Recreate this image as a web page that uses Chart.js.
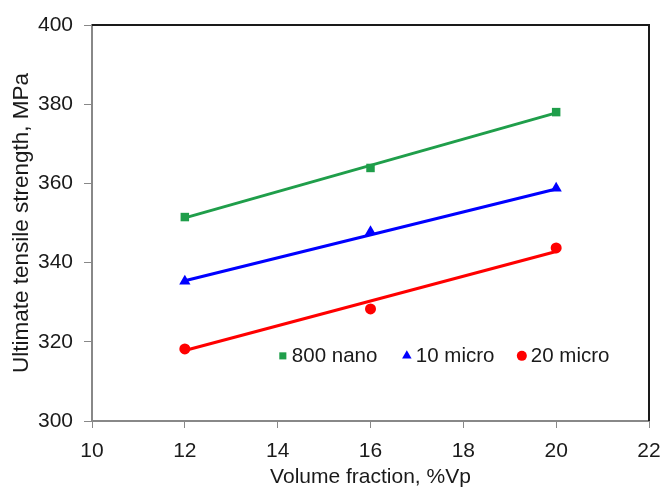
<!DOCTYPE html>
<html>
<head>
<meta charset="utf-8">
<script src="https://cdn.jsdelivr.net/npm/chart.js@4"></script>
<style>
html,body{margin:0;padding:0;background:#fff;}
#wrap{width:664px;height:494px;position:relative;}
</style>
</head>
<body>
<div id="wrap"><canvas id="c" width="664" height="494"></canvas></div>
<script>
// ---- data ----
const xValues = [12, 16, 20];
const seriesNames = ['800 nano', '10 micro', '20 micro'];
const nano800 = [351.5, 363.9, 378.0];
const micro10 = [335.3, 347.8, 358.8];
const micro20 = [318.2, 328.3, 343.7];
// trend line end values (at x = 12 and x = 20)
const trendX = [12, 20];
const trendNano800 = [351.3, 377.8];
const trendMicro10 = [335.4, 358.6];
const trendMicro20 = [317.8, 342.8];
const xTicks = [10, 12, 14, 16, 18, 20, 22];
const yTicks = [300, 320, 340, 360, 380, 400];

const colors = ['#1f9e4a', '#0000ff', '#ff0000'];
const shapes = ['rect', 'triangle', 'circle'];
const pointSets = [nano800, micro10, micro20];
const trendSets = [trendNano800, trendMicro10, trendMicro20];
const FONT = '"Liberation Sans", Arial, sans-serif';
const FS = 21;
// legend marker offsets (px) from the x=12 position
const legendOffsets = [98, 222, 337];

const datasets = [];
seriesNames.forEach((name, i) => {
  datasets.push({
    label: name + ' trend',
    data: trendX.map((x, k) => ({x: x, y: trendSets[i][k]})),
    showLine: true,
    borderColor: colors[i],
    borderWidth: 3,
    pointRadius: 0,
    fill: false,
    order: 2
  });
  datasets.push({
    label: name,
    data: xValues.map((x, k) => ({x: x, y: pointSets[i][k]})),
    showLine: false,
    backgroundColor: colors[i],
    borderColor: colors[i],
    borderWidth: 0,
    pointStyle: shapes[i],
    pointRadius: i === 0 ? 6 : (i === 1 ? 6.5 : 5.5),
    order: 1
  });
});

const framePlugin = {
  id: 'frame',
  afterDraw(chart) {
    const {ctx, chartArea: a} = chart;
    ctx.save();
    ctx.strokeStyle = '#1a1a1a';
    ctx.lineWidth = 2;
    ctx.beginPath();
    ctx.moveTo(a.left, a.top);
    ctx.lineTo(a.right, a.top);
    ctx.lineTo(a.right, a.bottom);
    ctx.stroke();
    ctx.restore();
  }
};

const legendPlugin = {
  id: 'inLegend',
  afterDraw(chart) {
    const {ctx} = chart;
    const xs = chart.scales.x, ys = chart.scales.y;
    const y = ys.getPixelForValue(316.7);
    const x0 = xs.getPixelForValue(12);
    ctx.save();
    ctx.font = '20.5px ' + FONT;
    ctx.textBaseline = 'middle';
    const markerR = [5, 5.5, 5];
    seriesNames.forEach((name, i) => {
      const x = x0 + legendOffsets[i];
      ctx.fillStyle = colors[i];
      ctx.strokeStyle = colors[i];
      Chart.helpers.drawPoint(ctx, {pointStyle: shapes[i], radius: markerR[i], borderWidth: 0}, x, y + 1);
      ctx.fillStyle = '#1a1a1a';
      ctx.fillText(name, x + 9, y + 1);
    });
    ctx.restore();
  }
};

new Chart(document.getElementById('c'), {
  type: 'scatter',
  data: {datasets},
  options: {
    responsive: false,
    animation: false,
    layout: {padding: {left: 8, right: 15, top: 25, bottom: 4}},
    plugins: {legend: {display: false}, tooltip: {enabled: false}},
    scales: {
      x: {
        type: 'linear', min: 10, max: 22,
        afterBuildTicks: s => { s.ticks = xTicks.map(v => ({value: v})); },
        afterFit: s => { s.height = 69; s.paddingLeft = 10; s.paddingRight = 10; },
        grid: {drawOnChartArea: false, drawTicks: true, tickLength: 7, color: '#888', tickColor: '#888'},
        border: {color: '#888', width: 2},
        ticks: {font: {size: FS, family: FONT}, color: '#1a1a1a', padding: 11, maxRotation: 0},
        title: {display: true, text: 'Volume fraction, %Vp', font: {size: FS, family: FONT}, color: '#1a1a1a', padding: {top: 0, bottom: 0}}
      },
      y: {
        type: 'linear', min: 300, max: 400,
        afterBuildTicks: s => { s.ticks = yTicks.map(v => ({value: v})); },
        afterFit: s => { s.width = 84; s.paddingTop = 10; s.paddingBottom = 10; },
        grid: {drawOnChartArea: false, drawTicks: true, tickLength: 8, color: '#888', tickColor: '#888'},
        border: {color: '#888', width: 2},
        ticks: {font: {size: FS, family: FONT}, color: '#1a1a1a', padding: 11},
        title: {display: true, text: 'Ultimate tensile strength, MPa', font: {size: 22.5, family: FONT}, color: '#1a1a1a', padding: {top: 0, bottom: 4}}
      }
    }
  },
  plugins: [framePlugin, legendPlugin]
});
</script>
</body>
</html>
